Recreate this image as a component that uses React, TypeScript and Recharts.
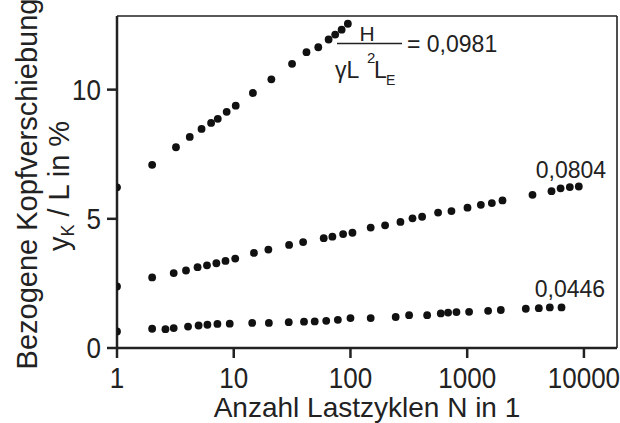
import { ScatterChart, Scatter, XAxis, YAxis, ReferenceLine } from 'recharts';

// load cycles N and related head displacement yK/L in %, one set per H/(γL²L_E)
const nTop = [1, 2, 3.2, 4.2, 5.3, 6.4, 7.3, 8.7, 10.4, 14.6, 21, 31.6, 42, 53, 65, 74, 84, 95];
const yTop = [6.22, 7.09, 7.77, 8.17, 8.48, 8.71, 8.87, 9.14, 9.38, 9.87, 10.4, 11.0, 11.45, 11.64, 11.94, 12.13, 12.32, 12.55];

const nMid = [1, 2, 3.06, 3.9, 4.9, 5.9, 7.1, 8.5, 10.3, 14.9, 19.8, 29.8, 39.3, 59, 70, 86.5, 104, 149, 198, 268, 340, 411, 563, 733, 1006, 1309, 1626, 2006, 3626, 5275, 6310, 7570, 9040];
const yMid = [2.38, 2.73, 2.9, 3.0, 3.13, 3.2, 3.28, 3.37, 3.46, 3.68, 3.81, 3.99, 4.1, 4.25, 4.31, 4.41, 4.46, 4.66, 4.75, 4.88, 5.02, 5.08, 5.24, 5.3, 5.43, 5.54, 5.61, 5.71, 5.93, 6.07, 6.18, 6.23, 6.25];

const nLow = [1, 2, 2.6, 3.06, 4.06, 5, 5.95, 7.25, 9.24, 14.4, 20, 29.6, 40, 49.4, 62, 78, 100, 149, 244, 318, 454, 594, 686, 809, 1038, 1511, 1941, 3177, 4107, 5102, 6427];
const yLow = [0.64, 0.745, 0.73, 0.77, 0.83, 0.87, 0.9, 0.93, 0.94, 0.97, 0.97, 1.0, 1.02, 1.03, 1.05, 1.09, 1.16, 1.16, 1.2, 1.27, 1.27, 1.34, 1.37, 1.39, 1.4, 1.44, 1.47, 1.52, 1.54, 1.57, 1.57];

const xTicks = [1, 10, 100, 1000, 10000];
const yTicks = [0, 5, 10];
const xMax = 19200;
const yMax = 12.85;

const toPoints = (n: number[], y: number[]) => n.map((v, i) => ({ n: v, y: y[i] }));

const ink = '#222';
const font = '"Liberation Sans", Arial, Helvetica, sans-serif';
const stretch = 1.13; // tick digits in the original are a bit taller than Arial

const Dot = (p: any) => <circle cx={p.cx} cy={p.cy} r={3.9} fill="#111" />;

const XTick = (p: any) => (
  <text
    x={p.x}
    y={p.y}
    dy="0.71em"
    textAnchor="middle"
    fontSize={26}
    fill={ink}
    fontFamily={font}
    transform={`translate(0 ${p.y}) scale(1 ${stretch}) translate(0 ${-p.y})`}
  >
    {p.payload.value}
  </text>
);

const YTick = (p: any) => (
  <text
    x={p.x}
    y={p.y}
    dy="0.355em"
    textAnchor="end"
    fontSize={26}
    fill={ink}
    fontFamily={font}
    transform={`translate(0 ${p.y}) scale(1 ${stretch}) translate(0 ${-p.y})`}
  >
    {p.payload.value}
  </text>
);

const XTitle = (p: any) => {
  const vb = p.viewBox || { x: 117, y: 348, width: 500 };
  return (
    <text x={vb.x + vb.width / 2} y={vb.y + 68.5} textAnchor="middle" fontSize={28} fill={ink} fontFamily={font}>
      Anzahl Lastzyklen N in 1
    </text>
  );
};

const YTitle = (p: any) => {
  const vb = p.viewBox || { x: 0, y: 16, height: 332 };
  const cy = vb.y + vb.height / 2;
  return (
    <g fontFamily={font} fill={ink}>
      <text x={37} y={cy + 2} textAnchor="middle" fontSize={29} transform={`rotate(-90, 37, ${cy + 2})`}>
        Bezogene Kopfverschiebung
      </text>
      <text x={69} y={cy + 4} textAnchor="middle" fontSize={29} transform={`rotate(-90, 69, ${cy + 4})`}>
        y<tspan fontSize={18} dy={5}>K</tspan>
        <tspan dy={-5}> / L in %</tspan>
      </text>
    </g>
  );
};

export default function App() {
  return (
    <div style={{ position: 'relative', width: 620, height: 423, background: '#fff' }}>
      <style>{'body{margin:0}'}</style>
      <ScatterChart width={620} height={423} margin={{ top: 16, right: 3, left: 0, bottom: 0 }}>
        <XAxis
          dataKey="n"
          type="number"
          scale="log"
          domain={[1, xMax]}
          allowDataOverflow
          ticks={xTicks}
          height={75}
          tickSize={10}
          tickMargin={9}
          stroke={ink}
          strokeWidth={2.5}
          tick={XTick}
          label={XTitle}
        />
        <YAxis
          dataKey="y"
          type="number"
          domain={[0, yMax]}
          allowDataOverflow
          ticks={yTicks}
          width={117}
          tickSize={10}
          tickMargin={6}
          stroke={ink}
          strokeWidth={2.5}
          tick={YTick}
          label={YTitle}
        />
        <ReferenceLine y={yMax} stroke={ink} strokeWidth={1.6} />
        <ReferenceLine x={xMax} stroke={ink} strokeWidth={1.6} />
        <Scatter data={toPoints(nTop, yTop)} shape={Dot} isAnimationActive={false} />
        <Scatter data={toPoints(nMid, yMid)} shape={Dot} isAnimationActive={false} />
        <Scatter data={toPoints(nLow, yLow)} shape={Dot} isAnimationActive={false} />
      </ScatterChart>
      <svg width={620} height={423} style={{ position: 'absolute', left: 0, top: 0, pointerEvents: 'none' }} fontFamily={font} fill={ink}>
        <text x={367} y={41} textAnchor="middle" fontSize={21}>H</text>
        <line x1={337} x2={402} y1={43.5} y2={43.5} stroke={ink} strokeWidth={1.3} />
        <text x={335} y={78} fontSize={23}>γL</text>
        <text x={367} y={63} fontSize={15}>2</text>
        <text x={374} y={78} fontSize={23}>L</text>
        <text x={386} y={85} fontSize={14}>E</text>
        <text x={407} y={52} fontSize={23}>= 0,0981</text>
        <text x={571} y={178} textAnchor="middle" fontSize={23}>0,0804</text>
        <text x={570} y={297} textAnchor="middle" fontSize={23}>0,0446</text>
      </svg>
    </div>
  );
}
